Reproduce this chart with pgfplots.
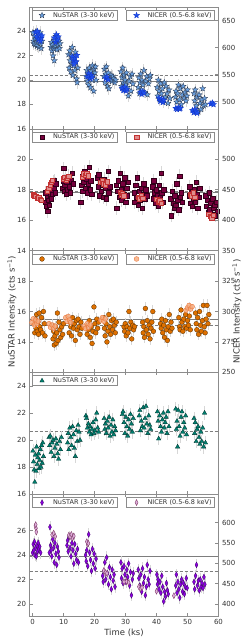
\documentclass[border=0pt]{standalone}
\usepackage{fontspec}
\setmainfont{DejaVu Sans}
\usepackage{pgfplots}
\pgfplotsset{compat=1.18}
\usetikzlibrary{plotmarks}

\definecolor{axgray}{RGB}{140,140,140}
\definecolor{lblgray}{RGB}{50,50,50}
\definecolor{errgray}{RGB}{215,215,215}
\definecolor{hlgray}{RGB}{125,125,125}
\definecolor{p1nu}{RGB}{105,160,225}
\definecolor{p1edge}{RGB}{40,55,80}
\definecolor{p1ni}{RGB}{30,80,240}
\definecolor{p1niedge}{RGB}{20,55,200}
\definecolor{p2nu}{RGB}{120,0,62}
\definecolor{p2edge}{RGB}{50,0,25}
\definecolor{p2ni}{RGB}{225,140,140}
\definecolor{p2niedge}{RGB}{195,50,50}
\definecolor{p3nu}{RGB}{222,112,0}
\definecolor{p3edge}{RGB}{85,45,0}
\definecolor{p3ni}{RGB}{246,170,125}
\definecolor{p3niedge}{RGB}{235,120,60}
\definecolor{p4nu}{RGB}{0,128,112}
\definecolor{p4edge}{RGB}{0,50,45}
\definecolor{p5nu}{RGB}{140,0,225}
\definecolor{p5edge}{RGB}{60,0,100}
\definecolor{p5ni}{RGB}{222,175,220}
\definecolor{p5niedge}{RGB}{130,60,105}

\pgfdeclareplotmark{fstar}{%
  \pgfpathmoveto{\pgfpointpolar{90}{1.25\pgfplotmarksize}}%
  \pgfpathlineto{\pgfpointpolar{126}{0.52\pgfplotmarksize}}%
  \pgfpathlineto{\pgfpointpolar{162}{1.25\pgfplotmarksize}}%
  \pgfpathlineto{\pgfpointpolar{198}{0.52\pgfplotmarksize}}%
  \pgfpathlineto{\pgfpointpolar{234}{1.25\pgfplotmarksize}}%
  \pgfpathlineto{\pgfpointpolar{270}{0.52\pgfplotmarksize}}%
  \pgfpathlineto{\pgfpointpolar{306}{1.25\pgfplotmarksize}}%
  \pgfpathlineto{\pgfpointpolar{342}{0.52\pgfplotmarksize}}%
  \pgfpathlineto{\pgfpointpolar{18}{1.25\pgfplotmarksize}}%
  \pgfpathlineto{\pgfpointpolar{54}{0.52\pgfplotmarksize}}%
  \pgfpathclose
  \pgfusepathqfillstroke
}

\pgfplotsset{
  base/.style={
    scale only axis, width=189pt, height=121.8pt,
    xmin=-1, xmax=60, xtick={0,10,...,60},
    tick align=inside, major tick length=3pt,
    axis line style={axgray, line width=0.6pt},
    tick style={axgray, line width=0.5pt},
    tick label style={font=\fontsize{7}{8}\selectfont, text=lblgray},
    /pgf/number format/assume math mode=true,
    label style={font=\fontsize{8.5}{10}\selectfont, text=lblgray},
    legend cell align=left,
    scaled ticks=false,
    legend image code/.code={\path (0cm,0cm) (0.6cm,0cm); \draw[#1] plot coordinates {(0.28cm,0cm)};},
  },
  legbox/.style={font=\fontsize{6.5}{7.5}\selectfont, draw=axgray, fill=white,
      inner xsep=1.5pt, inner ysep=0.2pt, text=lblgray, line width=0.6pt,
      nodes={inner sep=1.6pt}},
  leftax/.style={base, ytick pos=left, xtick pos=both,
    legend style={legbox, at={(rel axis cs:0.013,0.975)}, anchor=north west}},
  rightax/.style={base, axis y line*=right, axis x line=none,
    legend style={legbox, at={(rel axis cs:0.982,0.975)}, anchor=north east}},
  eb/.style={error bars/y dir=both, error bars/y fixed=#1,
    error bars/error mark=none,
    error bars/error bar style={errgray, line width=0.7pt}},
  hsolid/.style={hlgray, line width=1pt, forget plot},
  hdash/.style={hlgray, line width=0.8pt, dash pattern=on 3pt off 2pt, forget plot},
}

\begin{document}
\begin{tikzpicture}
\path[use as bounding box] (-29.5pt,7pt) rectangle (216.5pt,-633pt);

% ================= Panel 1 =================
\begin{axis}[leftax, at={(0pt,0pt)}, anchor=north west,
  ymin=16, ymax=26, ytick={16,18,20,22,24}, xticklabels={}]
\addplot[hsolid] coordinates {(-1,19.86) (60,19.86)};
\addplot[hdash] coordinates {(-1,20.35) (60,20.35)};
\addplot[only marks, mark=fstar, mark size=2.5pt,
  mark options={draw=p1edge, fill=p1nu, line width=0.3pt}, eb=0.5]
coordinates {
(0.1,23.9) (0.3,23.2) (0.4,23.0) (0.6,23.6) (0.8,22.9) (0.9,23.4) (1.1,24.0) (1.3,23.1) (1.4,22.8) (1.6,23.7) (1.8,23.3) (2.0,22.7) (2.2,23.5) (2.4,23.9) (2.6,23.0) (2.8,22.6) (3.0,23.2)
(5.9,22.7) (6.1,23.1) (6.3,22.4) (6.4,22.9) (6.6,22.0) (6.8,22.6) (7.0,21.6) (7.1,23.3) (7.3,22.8) (7.5,23.6) (7.7,23.0) (7.9,22.5) (8.1,23.4) (8.3,22.9) (8.5,23.2) (8.7,22.6) (8.9,23.0)
(11.6,22.1) (11.8,21.0) (12.0,22.4) (12.1,21.6) (12.3,20.7) (12.5,22.0) (12.7,21.3) (12.8,22.7) (13.0,20.4) (13.2,21.8) (13.4,21.2) (13.6,20.8) (13.8,22.3) (14.0,21.5) (14.2,20.1) (14.4,19.8) (14.6,21.0)
(17.3,20.3) (17.5,20.8) (17.7,19.9) (17.9,20.5) (18.1,19.6) (18.3,21.0) (18.5,20.2) (18.7,19.4) (18.9,20.7) (19.1,20.0) (19.3,21.2) (19.5,20.4) (19.7,19.1) (19.9,20.9) (20.1,20.6) (20.3,21.1) (20.5,20.0)
(23.0,20.3) (23.2,20.9) (23.4,19.8) (23.6,20.5) (23.8,21.1) (24.0,20.1) (24.2,19.5) (24.4,20.6) (24.6,19.3) (24.8,20.2) (25.0,20.0) (25.3,20.4) (25.6,19.9) (25.9,20.3) (26.2,20.1) (26.5,19.8) (26.8,20.0)
(28.5,20.7) (28.7,19.5) (28.9,20.2) (29.1,21.0) (29.3,19.8) (29.5,20.4) (29.7,19.2) (29.9,20.0) (30.1,19.6) (30.3,20.6) (30.6,19.4) (30.9,18.7) (31.2,19.9) (31.5,20.3) (31.8,19.1) (32.1,20.5) (32.4,19.7)
(34.1,19.4) (34.3,20.2) (34.5,18.9) (34.7,19.8) (34.9,20.5) (35.1,19.2) (35.3,20.0) (35.6,19.6) (35.9,20.8) (36.2,19.0) (36.5,19.9) (36.8,20.3) (37.1,18.8) (37.4,19.7) (37.7,20.1) (38.0,20.4)
(40.2,19.4) (40.4,18.7) (40.6,20.0) (40.8,19.1) (41.0,18.4) (41.3,19.7) (41.6,18.9) (41.9,19.3) (42.2,18.2) (42.5,19.8) (42.8,18.6) (43.1,19.5) (43.4,18.9) (43.7,18.1) (44.0,19.2) (44.3,18.5)
(46.1,18.6) (46.3,19.1) (46.5,18.2) (46.8,18.9) (47.1,19.6) (47.4,18.4) (47.7,19.3) (48.0,18.0) (48.3,18.8) (48.6,19.5) (48.9,18.5) (49.2,19.0) (49.5,18.3) (49.8,18.7) (50.0,19.2)
(52.1,18.9) (52.3,18.3) (52.5,19.2) (52.8,17.9) (53.1,18.6) (53.4,17.4) (53.7,18.8) (54.0,18.1) (54.3,17.6) (54.6,18.4) (54.9,19.3) (55.2,17.9) (55.5,18.5) (55.8,18.0)
};
\addlegendentry{NuSTAR (3-30 keV)}
\end{axis}
\begin{axis}[rightax, at={(0pt,0pt)}, anchor=north west,
  ymin=450, ymax=675, ytick={500,550,600,650}]
\addplot[only marks, mark=fstar, mark size=2.5pt,
  mark options={draw=p1niedge, fill=p1ni, line width=0.3pt}, eb=4]
coordinates {
(1.0,628) (1.3,620) (1.6,630) (1.9,615) (2.2,624) (2.5,612) (2.8,618) (3.0,622)
(7.0,618) (7.4,610) (7.7,624) (8.0,614) (8.3,620)
(12.8,583) (13.2,576) (13.6,580) (14.0,574) (14.3,586) (13.4,570)
(17.7,546) (18.1,552) (18.5,543) (18.9,549) (19.2,545)
(23.6,543) (24.0,546) (24.4,541)
(28.9,525) (29.3,521) (29.7,527) (30.1,520) (30.4,523)
(34.8,518) (35.2,514) (35.6,519) (35.9,516)
(40.8,507) (41.2,501) (41.6,505) (42.0,499) (42.3,503)
(46.2,488) (46.6,486) (47.0,489) (47.4,487) (47.7,488)
(51.6,484) (52.0,480) (52.4,486) (52.8,482) (53.1,479)
(57.5,496) (58.0,498) (58.4,495)
};
\addlegendentry{NICER (0.5-6.8 keV)}
\end{axis}

% ================= Panel 2 =================
\begin{axis}[leftax, at={(0pt,-121.8pt)}, anchor=north west,
  ymin=14, ymax=22, ytick={14,16,18,20}, xticklabels={}]
\addplot[hsolid] coordinates {(-1,17.82) (60,17.82)};
\addplot[hdash] coordinates {(-1,17.86) (60,17.86)};
\addplot[only marks, mark=square*, mark size=2.2pt,
  mark options={draw=p2edge, fill=p2nu, line width=0.3pt}, eb=0.45]
coordinates {
(4.0,17.2) (4.2,17.8) (4.4,16.9) (4.6,17.5) (4.8,16.6) (5.0,17.3) (5.2,17.9) (5.4,17.0) (5.6,17.6) (5.8,18.2) (6.0,17.4) (6.2,18.0) (6.4,17.7) (6.6,18.5) (6.8,18.1) (7.0,18.6) (7.2,17.8) (7.4,18.4)
(9.6,18.1) (9.8,18.6) (10.0,19.4) (10.2,17.9) (10.4,18.3) (10.6,18.8) (10.8,17.7) (11.0,18.5) (11.2,18.0) (11.5,18.9) (11.8,18.2) (12.1,17.8) (12.4,18.6) (12.7,19.1) (13.0,18.4)
(15.5,17.2) (15.8,18.3) (16.0,18.9) (16.2,17.9) (16.5,18.5) (16.8,19.2) (17.0,18.1) (17.3,18.7) (17.6,17.8) (17.9,18.4) (18.2,19.5) (18.5,18.0) (18.8,18.6) (19.0,17.7)
(20.9,18.8) (21.1,18.2) (21.3,19.0) (21.6,17.6) (21.9,18.5) (22.2,17.9) (22.5,18.3) (22.8,17.5) (23.1,18.7) (23.4,18.1) (23.7,17.4) (24.0,18.4) (24.3,19.2) (24.6,17.8) (24.9,18.2)
(26.9,18.3) (27.1,16.8) (27.3,17.9) (27.6,18.6) (27.9,17.5) (28.2,19.1) (28.5,18.0) (28.8,17.3) (29.1,18.4) (29.4,17.7) (29.7,18.8) (30.0,17.2) (30.3,18.1) (30.6,17.6) (30.9,18.5)
(32.8,17.8) (33.0,17.2) (33.2,18.3) (33.5,17.5) (33.8,18.8) (34.1,17.0) (34.4,17.9) (34.7,17.3) (35.0,18.1) (35.3,16.8) (35.6,17.7) (35.9,18.4) (36.2,17.4) (36.5,18.0) (36.8,17.6)
(38.7,18.2) (38.9,17.4) (39.1,18.6) (39.3,17.8) (39.6,17.1) (39.9,18.0) (40.2,17.6) (40.5,16.9) (40.8,18.3) (41.1,17.5) (41.4,19.1) (41.7,17.8) (42.0,17.2) (42.3,18.0)
(44.6,17.4) (44.8,16.3) (45.0,17.9) (45.3,17.1) (45.6,16.8) (45.9,17.6) (46.2,17.0) (46.5,18.4) (46.8,17.3) (47.1,16.7) (47.4,18.9) (47.7,17.5) (48.0,17.8) (48.3,17.2)
(50.5,17.6) (50.7,18.2) (50.9,17.1) (51.2,17.8) (51.5,16.9) (51.8,17.4) (52.1,18.0) (52.4,17.2) (52.7,18.5) (53.0,17.7) (53.3,16.8) (53.6,17.5) (53.9,18.1)
(55.9,17.6) (56.1,16.9) (56.3,17.3) (56.6,16.5) (56.9,17.8) (57.2,16.7) (57.5,17.1) (57.8,16.4) (58.1,17.4) (58.4,16.8) (58.7,17.0) (59.0,16.3) (59.3,17.2) (59.6,16.6)
};
\addlegendentry{NuSTAR (3-30 keV)}
\end{axis}
\begin{axis}[rightax, at={(0pt,-121.8pt)}, anchor=north west,
  ymin=350, ymax=550, ytick={350,400,450,500}]
\addplot[only marks, mark=square*, mark size=2.2pt,
  mark options={draw=p2niedge, fill=p2ni, line width=0.4pt}, eb=4]
coordinates {
(0.2,442) (0.6,440) (1.0,439) (1.5,436) (2.0,437) (2.5,434) (2.8,433)
(4.8,448) (5.2,452) (5.6,458) (6.0,462) (6.4,466)
(10.0,468) (10.4,471) (10.8,466) (11.2,470) (11.6,472)
(16.0,471) (16.5,476) (17.0,474) (17.5,477) (18.0,473)
(22.0,462) (22.5,465) (23.0,460) (23.5,458) (24.0,463)
(28.2,446) (28.6,442) (29.0,444) (29.4,440)
(34.0,438) (34.5,435) (35.0,440) (35.5,436)
(40.0,434) (40.5,430) (41.0,432) (41.5,428)
(50.8,443) (51.3,440) (51.8,445) (52.3,438)
(56.8,410) (57.3,406) (57.8,404) (58.3,408)
};
\addlegendentry{NICER (0.5-6.8 keV)}
\end{axis}

% ================= Panel 3 =================
\begin{axis}[leftax, at={(0pt,-243.6pt)}, anchor=north west,
  ymin=12, ymax=20, ytick={14,16,18}, xticklabels={},
  ylabel={NuSTAR Intensity (cts s\textsuperscript{−1})},
  ylabel style={at={(axis description cs:-0.0926,0.5)}, anchor=center}]
\addplot[hsolid] coordinates {(-1,15.46) (60,15.46)};
\addplot[hdash] coordinates {(-1,15.08) (60,15.08)};
\addplot[only marks, mark=*, mark size=2.4pt,
  mark options={draw=p3edge, fill=p3nu, line width=0.3pt}, eb=0.4]
coordinates {
(0.5,15.2) (0.7,14.6) (0.9,15.5) (1.1,14.9) (1.3,15.8) (1.5,14.7) (1.7,15.3) (1.9,14.5) (2.1,15.9) (2.3,15.0) (2.6,14.8) (2.9,15.6) (3.2,14.6) (3.5,16.0) (3.8,15.2) (4.0,14.4)
(6.4,15.1) (6.6,14.2) (6.8,14.7) (7.0,13.8) (7.2,14.4) (7.4,15.0) (7.6,13.9) (7.8,14.6) (8.0,15.9) (8.2,14.1) (8.5,15.3) (8.8,14.8) (9.1,14.3) (9.4,15.0) (9.7,14.5) (10.0,15.2)
(11.8,14.6) (12.0,15.3) (12.3,15.0) (12.6,14.4) (12.9,15.6) (13.2,14.9) (13.5,15.2) (13.8,14.1) (14.1,15.4) (14.4,14.8) (14.7,15.5) (15.0,15.0) (15.3,14.5) (15.6,15.3) (15.9,14.9)
(17.6,14.5) (17.8,15.1) (18.0,14.8) (18.3,15.4) (18.6,14.3) (18.9,15.0) (19.2,13.9) (19.5,14.7) (19.8,16.3) (20.1,15.2) (20.4,14.6) (20.7,15.5) (21.0,14.9) (21.3,15.3)
(23.0,15.6) (23.2,14.9) (23.4,14.4) (23.7,15.2) (24.0,14.0) (24.3,14.7) (24.6,15.8) (24.9,15.0) (25.2,14.5) (25.5,15.4) (25.8,14.8) (26.1,15.5) (26.4,15.1) (26.7,14.6) (27.0,15.3)
(29.5,15.0) (29.7,14.7) (29.9,15.2) (30.2,14.4) (30.5,15.0) (30.8,14.6) (31.1,16.0) (31.4,14.9) (31.7,15.3) (32.0,14.2) (32.3,15.1) (32.6,14.8) (32.9,15.0)
(35.5,15.3) (35.7,14.6) (35.9,15.0) (36.1,14.3) (36.4,16.2) (36.7,14.8) (37.0,15.4) (37.3,14.5) (37.6,15.1) (37.9,14.2) (38.2,14.9) (38.5,15.3) (38.8,16.0) (39.0,14.7)
(41.3,15.2) (41.5,14.9) (41.7,15.5) (42.0,14.6) (42.3,15.1) (42.6,14.3) (42.9,15.4) (43.2,14.8) (43.5,14.1) (43.8,15.0) (44.1,15.8) (44.4,14.7) (44.7,15.3) (45.0,14.9)
(47.2,15.6) (47.4,15.0) (47.6,14.8) (47.9,16.1) (48.2,15.3) (48.5,14.7) (48.8,15.5) (49.1,15.0) (49.4,15.8) (49.7,14.9) (50.0,15.4) (50.3,15.1) (50.6,15.7) (50.9,14.8)
(52.6,15.9) (52.8,15.2) (53.0,14.8) (53.3,15.6) (53.6,14.5) (53.9,16.0) (54.2,15.1) (54.5,14.7) (54.8,15.4) (55.1,16.4) (55.4,15.0) (55.7,14.6) (56.0,15.5) (56.3,16.4) (56.6,15.2) (56.9,15.8)
};
\addlegendentry{NuSTAR (3-30 keV)}
\end{axis}
\begin{axis}[rightax, at={(0pt,-243.6pt)}, anchor=north west,
  ymin=250, ymax=350, ytick={250,275,300,325},
  ylabel={NICER Intensity (cts s\textsuperscript{−1})},
  ylabel style={at={(axis description cs:1.0979,0.5)}, anchor=center}]
\addplot[only marks, mark=*, mark size=2.4pt,
  mark options={draw=p3niedge, fill=p3ni, line width=0.4pt, fill opacity=0.8}, eb=2.5]
coordinates {
(-0.2,291) (0.2,294) (0.6,289) (1.0,293) (1.4,290) (1.8,292)
(5.3,290) (5.8,287) (6.3,289) (6.8,286) (7.3,288)
(10.7,295) (11.1,292) (11.5,296) (11.9,293) (12.3,291)
(16.6,288) (17.1,286) (17.6,290) (18.1,287) (18.6,289)
(22.0,293) (22.5,295) (23.0,292) (23.5,294)
(49.5,301) (50.0,303) (50.5,305) (51.0,302) (51.5,304)
};
\addlegendentry{NICER (0.5-6.8 keV)}
\end{axis}

% ================= Panel 4 =================
\begin{axis}[leftax, at={(0pt,-365.4pt)}, anchor=north west,
  ymin=16, ymax=25, ytick={16,18,20,22,24}, xticklabels={}]
\addplot[hdash] coordinates {(-1,20.65) (60,20.65)};
\addplot[only marks, mark=triangle*, mark size=2.6pt,
  mark options={draw=p4edge, fill=p4nu, line width=0.3pt}, eb=0.5]
coordinates {
(0.1,19.2) (0.3,18.4) (0.5,17.8) (0.7,16.9) (0.9,18.9) (1.1,17.7) (1.3,19.5) (1.5,18.2) (1.7,18.7) (1.9,19.0) (2.1,17.9) (2.3,18.5) (2.5,19.3) (2.7,18.0) (2.9,19.6) (3.1,18.3) (3.3,19.8) (3.5,18.8)
(5.3,20.2) (5.5,19.6) (5.7,20.3) (6.0,19.1) (6.3,19.8) (6.6,20.0) (6.9,18.8) (7.2,19.4) (7.5,20.1) (7.8,19.7) (8.1,19.0) (8.4,18.6) (8.7,19.9) (9.0,19.3) (9.3,20.2)
(11.3,19.8) (11.5,20.5) (11.7,19.3) (12.0,20.9) (12.3,20.2) (12.6,19.6) (12.9,21.0) (13.2,20.4) (13.5,19.4) (13.8,18.8) (14.1,20.7) (14.4,19.9) (14.7,21.1) (15.0,20.6) (15.3,20.0)
(17.2,21.8) (17.4,21.6) (17.7,20.9) (18.0,21.2) (18.3,20.6) (18.6,21.0) (18.9,20.4) (19.2,20.8) (19.5,21.3) (19.8,20.5) (20.1,20.7) (20.4,21.5) (20.7,22.0) (21.0,20.9) (21.3,20.6)
(23.1,21.6) (23.3,20.8) (23.5,21.2) (23.8,20.5) (24.1,21.4) (24.4,20.9) (24.7,21.7) (25.0,20.3) (25.3,21.1) (25.6,20.6) (25.9,21.5) (26.2,20.4) (26.5,21.0) (26.8,20.7)
(29.0,21.9) (29.2,22.1) (29.5,21.3) (29.8,20.5) (30.1,21.7) (30.4,21.0) (30.7,20.3) (31.0,21.5) (31.3,20.8) (31.6,21.9) (31.9,21.2) (32.2,20.6) (32.5,21.6)
(34.4,21.8) (34.6,22.2) (34.8,20.7) (35.1,21.4) (35.4,21.0) (35.7,22.4) (36.0,20.9) (36.3,21.6) (36.6,22.5) (36.9,21.2) (37.2,20.5) (37.5,21.8) (37.8,21.1) (38.1,20.8)
(40.3,22.1) (40.5,21.4) (40.7,20.1) (41.0,21.8) (41.3,21.0) (41.6,20.6) (41.9,21.5) (42.2,22.0) (42.5,20.9) (42.8,21.3) (43.1,21.7) (43.4,20.5) (43.7,22.1) (44.0,21.0)
(46.2,22.3) (46.4,20.8) (46.6,21.4) (46.8,19.5) (47.0,22.2) (47.3,21.0) (47.6,20.3) (47.9,21.7) (48.2,22.1) (48.5,20.6) (48.8,21.3) (49.1,20.9) (49.4,21.8) (49.7,20.4)
(52.1,21.6) (52.3,20.5) (52.5,21.3) (52.8,19.9) (53.1,20.8) (53.4,21.0) (53.7,20.2) (54.0,19.7) (54.3,20.6) (54.6,19.9) (54.9,20.9) (55.2,19.5) (55.5,22.0) (55.8,19.8)
};
\addlegendentry{NuSTAR (3-30 keV)}
\end{axis}

% ================= Panel 5 =================
\begin{axis}[leftax, at={(0pt,-487.2pt)}, anchor=north west,
  ymin=19, ymax=29, ytick={20,22,24,26}, xlabel={Time (ks)},
  xlabel style={yshift=3pt}]
\addplot[hsolid] coordinates {(-1,23.9) (60,23.9)};
\addplot[hdash] coordinates {(-1,22.67) (60,22.67)};
\addplot[only marks, mark=diamond*, mark size=3pt,
  mark options={draw=p5edge, fill=p5nu, line width=0.3pt, xscale=0.65}, eb=0.5]
coordinates {
(0.0,24.2) (0.2,24.9) (0.4,24.4) (0.6,25.1) (0.8,24.0) (1.0,24.6) (1.2,23.9) (1.4,24.8) (1.6,24.3) (1.8,25.0) (2.0,24.5) (2.3,24.7) (2.6,24.2)
(5.4,24.2) (5.6,26.3) (5.8,24.8) (6.0,24.4) (6.2,23.9) (6.5,25.3) (6.8,24.6) (7.0,23.4) (7.2,25.0) (7.5,24.1) (7.8,23.2) (8.0,24.7) (8.3,24.3) (8.5,23.8)
(11.1,24.8) (11.3,25.2) (11.5,24.3) (11.8,25.5) (12.1,24.6) (12.4,23.9) (12.7,25.0) (13.0,24.4) (13.3,23.3) (13.6,24.9) (13.9,24.1) (14.2,23.6) (14.5,24.5) (14.8,23.4)
(17.1,24.0) (17.3,23.5) (17.5,24.4) (17.8,23.1) (18.1,25.7) (18.4,24.2) (18.7,23.6) (19.0,22.7) (19.3,24.5) (19.6,23.3) (19.9,24.1) (20.2,22.9) (20.5,23.7)
(22.6,22.3) (22.8,21.8) (23.0,22.7) (23.3,23.4) (23.6,22.0) (23.9,23.8) (24.2,22.5) (24.5,21.6) (24.8,23.0) (25.1,22.2) (25.4,21.2) (25.7,22.8) (26.0,21.9) (26.3,22.4) (26.6,21.4)
(28.5,23.4) (28.7,22.1) (28.9,22.9) (29.2,21.7) (29.5,23.1) (29.8,22.4) (30.1,21.8) (30.4,22.8) (30.7,22.2) (31.0,23.3) (31.3,21.5) (31.6,22.6) (31.9,20.7) (32.2,22.0) (32.5,22.5)
(34.1,22.8) (34.3,22.1) (34.6,21.5) (34.9,22.4) (35.2,21.0) (35.5,22.9) (35.8,21.7) (36.1,22.2) (36.4,20.7) (36.7,21.4) (37.0,23.2) (37.3,22.0) (37.6,21.6) (37.9,22.7)
(40.1,22.4) (40.3,21.6) (40.5,22.0) (40.8,21.2) (41.1,21.8) (41.4,20.9) (41.7,22.3) (42.0,21.4) (42.3,20.2) (42.6,21.0) (42.9,20.6) (43.2,21.7) (43.5,21.1) (43.8,20.8)
(46.2,21.5) (46.4,22.4) (46.6,20.9) (46.9,21.8) (47.2,21.2) (47.5,20.5) (47.8,21.6) (48.1,22.0) (48.4,21.0) (48.7,21.7) (49.0,20.8) (49.3,21.4) (49.6,22.1) (49.9,21.3)
(52.1,21.8) (52.3,21.2) (52.6,22.3) (52.9,23.2) (53.2,21.5) (53.5,21.9) (53.8,21.1) (54.1,22.0) (54.4,21.4) (54.7,21.7) (55.0,21.3) (55.3,22.2) (55.6,21.6)
};
\addlegendentry{NuSTAR (3-30 keV)}
\end{axis}
\begin{axis}[rightax, at={(0pt,-487.2pt)}, anchor=north west,
  ymin=370, ymax=670, ytick={400,450,500,550,600}]
\addplot[only marks, mark=diamond*, mark size=3pt,
  mark options={draw=p5niedge, fill=p5ni, line width=0.4pt, xscale=0.65}, eb=6]
coordinates {
(0.9,592) (1.1,586) (1.0,595) (1.2,577)
(6.3,570) (6.8,574) (7.3,566)
(11.7,569) (12.1,565) (12.5,571) (12.9,562) (13.3,567)
(17.5,553) (17.8,546) (18.0,549)
(23.0,482) (23.5,477) (24.0,475)
(29.5,454) (30.3,455) (31.0,452)
(34.3,442) (34.8,437) (35.3,440)
(40.0,431)
(45.6,420)
};
\addlegendentry{NICER (0.5-6.8 keV)}
\end{axis}
\end{tikzpicture}
\end{document}
